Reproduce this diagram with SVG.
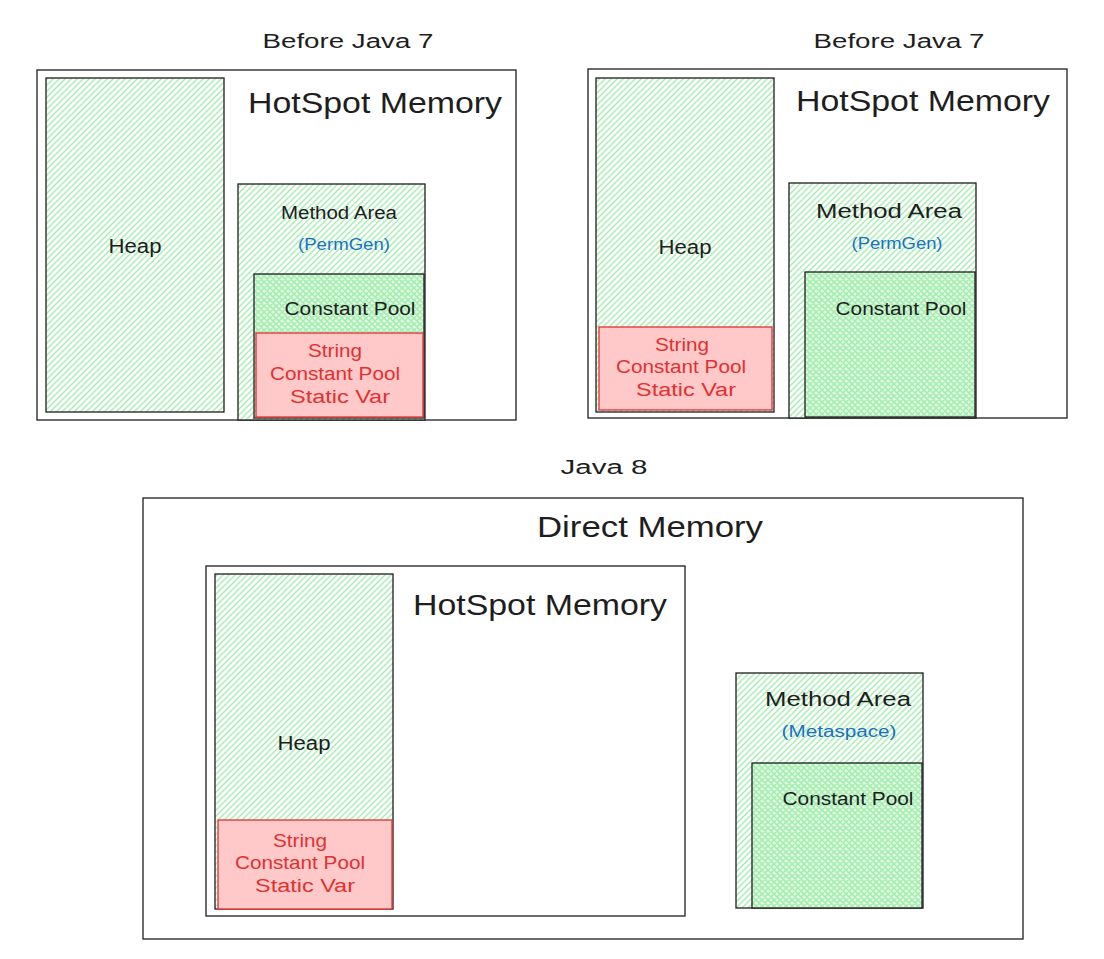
<svg xmlns="http://www.w3.org/2000/svg" width="1104" height="959" viewBox="0 0 1104 959">
<defs>
<pattern id="hatch" patternUnits="userSpaceOnUse" width="6" height="6">
<rect width="6" height="6" fill="#ffffff"/>
<path d="M0,6 L6,0 M-1,1 L1,-1 M5,7 L7,5" stroke="#a9efb4" stroke-width="1.5"/>
</pattern>
<pattern id="cross" patternUnits="userSpaceOnUse" width="6" height="6">
<rect width="6" height="6" fill="#e3f9e6"/>
<path d="M0,6 L6,0 M-1,1 L1,-1 M5,7 L7,5 M0,0 L6,6 M-1,5 L1,7 M5,-1 L7,1" stroke="#a0eeab" stroke-width="1.5"/>
</pattern>
<style>
.box{fill:#ffffff;stroke:#1e1e1e;stroke-width:1.3}
.green{fill:url(#hatch);stroke:#1e1e1e;stroke-width:1.3}
.pool{fill:url(#cross);stroke:#1e1e1e;stroke-width:1.3}
.red{fill:#ffc9c9;stroke:#e03131;stroke-width:1.3}
text{font-family:"Liberation Sans","DejaVu Sans",sans-serif;fill:#1e1e1e;text-anchor:middle}
.t{font-size:20px}
.big{font-size:30px}
.lbl{font-size:18px}
.blue{fill:#1971c2;font-size:16px}
.rt{fill:#e03131;font-size:18px}
</style>
</defs>
<g id="connectors"/>
<g id="panel1">
<text class="t" x="348" y="48" textLength="171" lengthAdjust="spacingAndGlyphs">Before Java 7</text>
<rect class="box" x="37" y="70" width="479" height="350"/>
<text class="big" x="375" y="113" textLength="254" lengthAdjust="spacingAndGlyphs">HotSpot Memory</text>
<g id="p1-heap">
<rect class="green" x="46" y="78" width="178" height="334"/>
<text class="t" x="135" y="253" textLength="53" lengthAdjust="spacingAndGlyphs">Heap</text>
</g>
<g id="p1-method">
<rect class="green" x="238" y="184" width="187" height="236"/>
<text class="lbl" x="339" y="219" font-size="17" textLength="116" lengthAdjust="spacingAndGlyphs">Method Area</text>
<text class="blue" x="344" y="250" textLength="92" lengthAdjust="spacingAndGlyphs">(PermGen)</text>
</g>
<g id="p1-pool">
<rect class="pool" x="254" y="274" width="170" height="144"/>
<text class="lbl" x="350" y="315" textLength="131" lengthAdjust="spacingAndGlyphs">Constant Pool</text>
</g>
<g id="p1-string">
<rect class="red" x="256" y="333" width="167" height="84"/>
<text class="rt" x="335" y="357" textLength="54" lengthAdjust="spacingAndGlyphs">String</text>
<text class="rt" x="335" y="380" textLength="130" lengthAdjust="spacingAndGlyphs">Constant Pool</text>
<text class="rt" x="340" y="403" textLength="100" lengthAdjust="spacingAndGlyphs">Static Var</text>
</g>
</g>
<g id="panel2">
<text class="t" x="899" y="48" textLength="171" lengthAdjust="spacingAndGlyphs">Before Java 7</text>
<rect class="box" x="588" y="69" width="479" height="349"/>
<text class="big" x="923" y="111" textLength="254" lengthAdjust="spacingAndGlyphs">HotSpot Memory</text>
<g id="p2-heap">
<rect class="green" x="596" y="78" width="178" height="334"/>
<text class="t" x="685" y="254" textLength="53" lengthAdjust="spacingAndGlyphs">Heap</text>
</g>
<g id="p2-string">
<rect class="red" x="599" y="327" width="173" height="83"/>
<text class="rt" x="682" y="351" textLength="54" lengthAdjust="spacingAndGlyphs">String</text>
<text class="rt" x="681" y="373" textLength="130" lengthAdjust="spacingAndGlyphs">Constant Pool</text>
<text class="rt" x="686" y="396" textLength="100" lengthAdjust="spacingAndGlyphs">Static Var</text>
</g>
<g id="p2-method">
<rect class="green" x="789" y="183" width="187" height="235"/>
<text class="t" x="889" y="218" textLength="146" lengthAdjust="spacingAndGlyphs">Method Area</text>
<text class="blue" x="897" y="249" textLength="91" lengthAdjust="spacingAndGlyphs">(PermGen)</text>
</g>
<g id="p2-pool">
<rect class="pool" x="805" y="272" width="170" height="145"/>
<text class="lbl" x="901" y="315" textLength="131" lengthAdjust="spacingAndGlyphs">Constant Pool</text>
</g>
</g>
<g id="panel3">
<text class="t" x="604" y="474" textLength="87" lengthAdjust="spacingAndGlyphs">Java 8</text>
<rect class="box" x="143" y="498" width="880" height="441"/>
<text class="big" x="650" y="537" textLength="226" lengthAdjust="spacingAndGlyphs">Direct Memory</text>
<g id="p3-hotspot">
<rect class="box" x="206" y="566" width="479" height="350"/>
<text class="big" x="540" y="615" textLength="254" lengthAdjust="spacingAndGlyphs">HotSpot Memory</text>
</g>
<g id="p3-heap">
<rect class="green" x="215" y="574" width="178" height="335"/>
<text class="t" x="304" y="750" textLength="53" lengthAdjust="spacingAndGlyphs">Heap</text>
</g>
<g id="p3-string">
<rect class="red" x="218" y="820" width="174" height="89"/>
<text class="rt" x="300" y="847" textLength="54" lengthAdjust="spacingAndGlyphs">String</text>
<text class="rt" x="300" y="869" textLength="130" lengthAdjust="spacingAndGlyphs">Constant Pool</text>
<text class="rt" x="305" y="892" textLength="100" lengthAdjust="spacingAndGlyphs">Static Var</text>
</g>
<g id="p3-method">
<rect class="green" x="736" y="673" width="187" height="235"/>
<text class="t" x="838" y="706" textLength="146" lengthAdjust="spacingAndGlyphs">Method Area</text>
<text class="blue" x="839" y="737" textLength="115" lengthAdjust="spacingAndGlyphs">(Metaspace)</text>
</g>
<g id="p3-pool">
<rect class="pool" x="752" y="763" width="170" height="145"/>
<text class="lbl" x="848" y="805" textLength="131" lengthAdjust="spacingAndGlyphs">Constant Pool</text>
</g>
</g>
</svg>
